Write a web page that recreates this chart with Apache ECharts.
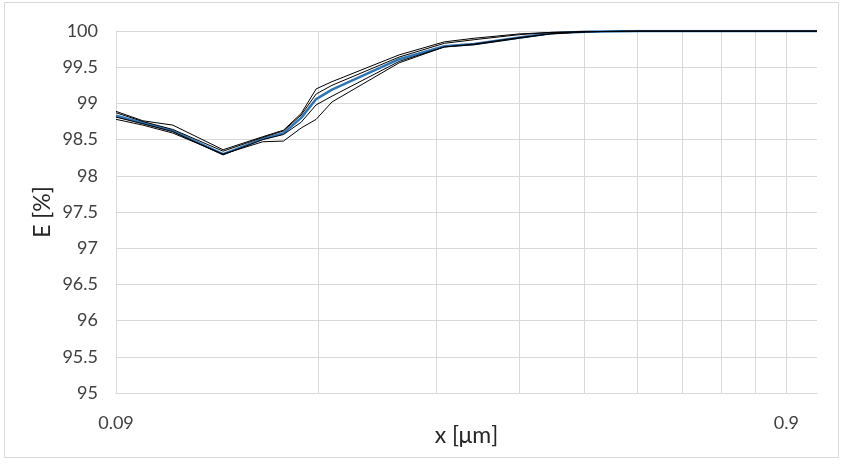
<!DOCTYPE html>
<html>
<head>
<meta charset="utf-8">
<script src="https://cdn.jsdelivr.net/npm/echarts@6/dist/echarts.min.js"></script>
<style>
html,body{margin:0;padding:0;background:#fff;}
#chart{width:843px;height:466px;}
</style>
</head>
<body>
<div id="chart"></div>
<script>
// x positions (µm)
var xValues = [0.09, 0.0987, 0.1094, 0.130, 0.149, 0.160, 0.170, 0.179, 0.189, 0.238, 0.278, 0.308, 0.36, 0.40, 0.452, 0.544, 1.0];
// E [%] series
var seriesBlue   = [98.83, 98.73, 98.62, 98.30, 98.51, 98.59, 98.80, 99.06, 99.19, 99.61, 99.79, 99.82, 99.91, 99.97, 99.99, 100, 100];
var seriesBlack1 = [98.89, 98.76, 98.70, 98.36, 98.54, 98.63, 98.86, 99.20, 99.30, 99.67, 99.85, 99.90, 99.96, 99.98, 99.99, 100, 100];
var seriesBlack2 = [98.87, 98.75, 98.64, 98.34, 98.53, 98.62, 98.84, 99.13, 99.25, 99.64, 99.83, 99.88, 99.95, 99.98, 99.99, 100, 100];
var seriesBlack3 = [98.81, 98.72, 98.61, 98.29, 98.50, 98.57, 98.74, 98.98, 99.10, 99.58, 99.78, 99.82, 99.91, 99.96, 99.99, 100, 100];
var seriesBlack4 = [98.78, 98.70, 98.59, 98.30, 98.47, 98.48, 98.66, 98.78, 99.02, 99.56, 99.78, 99.81, 99.90, 99.96, 99.99, 100, 100];
// axis ticks
var xGridValues = [0.09, 0.18, 0.27, 0.36, 0.45, 0.54, 0.63, 0.72, 0.81, 0.9];
var xLabelValues = [0.09, 0.9];
var yMin = 95, yMax = 100, yStep = 0.5;

function pairs(ys) { return xValues.map(function (x, i) { return [x, ys[i]]; }); }

var FONT = "Lato, 'Open Sans', sans-serif";
var chart = echarts.init(document.getElementById('chart'), null, {renderer: 'canvas'});

function blackSeries(ys) {
  return {type: 'line', data: pairs(ys), symbol: 'none', silent: true,
          lineStyle: {color: '#000', width: 1}, z: 3};
}

chart.setOption({
  animation: false,
  graphic: [{
    type: 'rect', shape: {x: 4.5, y: 2.5, width: 834, height: 455},
    style: {fill: 'none', stroke: '#d9d9d9', lineWidth: 1}, silent: true, z: -1
  }],
  grid: {left: 116, right: 26, top: 31, bottom: 73, containLabel: false},
  xAxis: {
    type: 'log', logBase: 10, min: 0.09, max: 1,
    name: 'x [μm]', nameLocation: 'middle', nameGap: 31, nameMoveOverlap: false,
    nameTextStyle: {fontFamily: FONT, fontSize: 23, color: '#262626'},
    axisLine: {show: true, lineStyle: {color: '#d9d9d9'}},
    axisTick: {show: false, customValues: xGridValues},
    axisLabel: {customValues: xLabelValues, fontFamily: FONT, fontSize: 18, color: '#404040', margin: 21,
      formatter: function (v) { return String(Math.round(v * 100) / 100); }},
    splitLine: {show: true, lineStyle: {color: '#d9d9d9', width: 1}},
    minorSplitLine: {show: false}
  },
  yAxis: {
    type: 'value', min: yMin, max: yMax, interval: yStep,
    name: 'E [%]', nameLocation: 'middle', nameGap: 62, nameRotate: 90, nameMoveOverlap: false,
    nameTextStyle: {fontFamily: FONT, fontSize: 23, color: '#262626'},
    axisLine: {show: true, lineStyle: {color: '#d9d9d9'}},
    axisTick: {show: false},
    axisLabel: {fontFamily: FONT, fontSize: 18, color: '#404040', margin: 18},
    splitLine: {show: true, lineStyle: {color: '#d9d9d9', width: 1}}
  },
  series: [
    {type: 'line', data: pairs(seriesBlue), symbol: 'none', silent: true,
     lineStyle: {color: '#2e75b6', width: 2.5}, z: 2},
    blackSeries(seriesBlack1),
    blackSeries(seriesBlack2),
    blackSeries(seriesBlack3),
    blackSeries(seriesBlack4)
  ]
});
</script>
</body>
</html>
